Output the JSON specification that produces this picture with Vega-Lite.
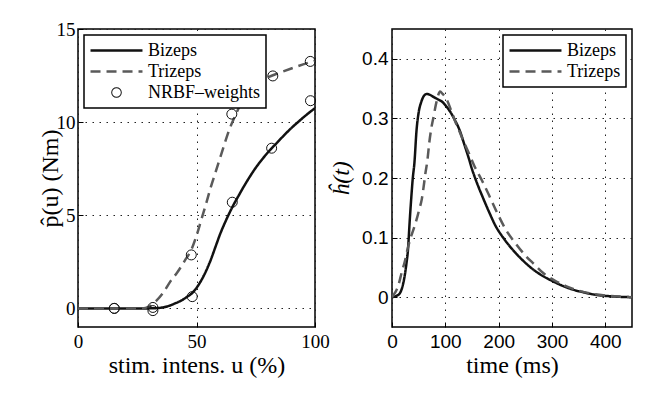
{
  "$schema": "https://vega.github.io/schema/vega-lite/v6.json",
  "padding": {"left": 37, "top": 19, "right": 5, "bottom": 5},
  "background": "white",
  "config": {
    "font": "Liberation Serif",
    "view": {"stroke": "black", "strokeWidth": 1.5},
    "axis": {
      "grid": true, "gridColor": "#222", "gridDash": [1.5, 5.5], "gridWidth": 1,
      "ticks": true, "tickSize": -5, "tickColor": "black", "tickWidth": 1, "domain": false,
      "labelColor": "black", "titleColor": "black",
      "titleFont": "Liberation Serif", "titleFontSize": 24, "titleFontWeight": "normal"
    },
    "legend": {
      "title": null, "offset": 6, "labelFont": "Liberation Serif", "labelFontSize": 18, "labelColor": "black",
      "strokeColor": "black", "fillColor": "white", "padding": 5, "rowPadding": 0, "labelOffset": 4,
      "symbolSize": 2700, "symbolStrokeWidth": 2.5, "symbolType": "stroke", "clipHeight": 21
    }
  },
  "datasets": {
    "left": [
      {"u": 0, "p": 0, "series": "Bizeps"}, {"u": 20, "p": 0, "series": "Bizeps"}, {"u": 30, "p": 0, "series": "Bizeps"},
      {"u": 34, "p": 0.02, "series": "Bizeps"}, {"u": 38, "p": 0.12, "series": "Bizeps"}, {"u": 41, "p": 0.27, "series": "Bizeps"},
      {"u": 44, "p": 0.45, "series": "Bizeps"}, {"u": 46, "p": 0.62, "series": "Bizeps"}, {"u": 48, "p": 0.8, "series": "Bizeps"},
      {"u": 50, "p": 1.1, "series": "Bizeps"}, {"u": 52, "p": 1.5, "series": "Bizeps"}, {"u": 54, "p": 2.0, "series": "Bizeps"},
      {"u": 56, "p": 2.6, "series": "Bizeps"}, {"u": 58, "p": 3.3, "series": "Bizeps"}, {"u": 60, "p": 4.0, "series": "Bizeps"},
      {"u": 62, "p": 4.6, "series": "Bizeps"}, {"u": 64, "p": 5.15, "series": "Bizeps"}, {"u": 66, "p": 5.65, "series": "Bizeps"},
      {"u": 68, "p": 6.1, "series": "Bizeps"}, {"u": 70, "p": 6.55, "series": "Bizeps"}, {"u": 72, "p": 6.97, "series": "Bizeps"},
      {"u": 75, "p": 7.55, "series": "Bizeps"}, {"u": 78, "p": 8.05, "series": "Bizeps"}, {"u": 81, "p": 8.5, "series": "Bizeps"},
      {"u": 84, "p": 8.9, "series": "Bizeps"}, {"u": 87, "p": 9.3, "series": "Bizeps"}, {"u": 90, "p": 9.68, "series": "Bizeps"},
      {"u": 93, "p": 10.02, "series": "Bizeps"}, {"u": 96, "p": 10.35, "series": "Bizeps"}, {"u": 100, "p": 10.75, "series": "Bizeps"},
      {"u": 0, "p": 0, "series": "Trizeps"}, {"u": 20, "p": 0, "series": "Trizeps"}, {"u": 27, "p": 0, "series": "Trizeps"},
      {"u": 30, "p": 0.1, "series": "Trizeps"}, {"u": 33, "p": 0.4, "series": "Trizeps"}, {"u": 36, "p": 0.85, "series": "Trizeps"},
      {"u": 39, "p": 1.45, "series": "Trizeps"}, {"u": 42, "p": 1.95, "series": "Trizeps"}, {"u": 45, "p": 2.55, "series": "Trizeps"},
      {"u": 48, "p": 3.2, "series": "Trizeps"}, {"u": 50, "p": 3.9, "series": "Trizeps"}, {"u": 52, "p": 4.75, "series": "Trizeps"},
      {"u": 54, "p": 5.6, "series": "Trizeps"}, {"u": 56, "p": 6.5, "series": "Trizeps"}, {"u": 58, "p": 7.3, "series": "Trizeps"},
      {"u": 60, "p": 8.1, "series": "Trizeps"}, {"u": 62, "p": 8.9, "series": "Trizeps"}, {"u": 64, "p": 9.65, "series": "Trizeps"},
      {"u": 66, "p": 10.25, "series": "Trizeps"}, {"u": 68, "p": 10.8, "series": "Trizeps"}, {"u": 70, "p": 11.25, "series": "Trizeps"},
      {"u": 73, "p": 11.75, "series": "Trizeps"}, {"u": 76, "p": 12.1, "series": "Trizeps"}, {"u": 80, "p": 12.4, "series": "Trizeps"},
      {"u": 85, "p": 12.65, "series": "Trizeps"}, {"u": 90, "p": 12.88, "series": "Trizeps"}, {"u": 95, "p": 13.1, "series": "Trizeps"},
      {"u": 100, "p": 13.3, "series": "Trizeps"}
    ],
    "weights": [
      {"u": 15.3, "p": 0}, {"u": 15.3, "p": 0}, {"u": 31.6, "p": 0.05}, {"u": 31.6, "p": -0.12},
      {"u": 48.2, "p": 0.63}, {"u": 47.8, "p": 2.87}, {"u": 65.1, "p": 5.7}, {"u": 64.9, "p": 10.43},
      {"u": 81.7, "p": 8.6}, {"u": 82.2, "p": 12.48}, {"u": 98.1, "p": 11.15}, {"u": 98.0, "p": 13.26}
    ],
    "right": [
      {"t": 0, "h": 0, "series": "Bizeps"}, {"t": 5, "h": 0.001, "series": "Bizeps"}, {"t": 10, "h": 0.003, "series": "Bizeps"},
      {"t": 15, "h": 0.007, "series": "Bizeps"}, {"t": 18, "h": 0.013, "series": "Bizeps"}, {"t": 21, "h": 0.023, "series": "Bizeps"},
      {"t": 24, "h": 0.037, "series": "Bizeps"}, {"t": 27, "h": 0.056, "series": "Bizeps"}, {"t": 30, "h": 0.08, "series": "Bizeps"},
      {"t": 33, "h": 0.125, "series": "Bizeps"}, {"t": 36, "h": 0.165, "series": "Bizeps"}, {"t": 39, "h": 0.2, "series": "Bizeps"},
      {"t": 42, "h": 0.225, "series": "Bizeps"}, {"t": 46, "h": 0.28, "series": "Bizeps"}, {"t": 50, "h": 0.31, "series": "Bizeps"},
      {"t": 55, "h": 0.328, "series": "Bizeps"}, {"t": 60, "h": 0.338, "series": "Bizeps"}, {"t": 65, "h": 0.341, "series": "Bizeps"},
      {"t": 70, "h": 0.34, "series": "Bizeps"}, {"t": 78, "h": 0.336, "series": "Bizeps"}, {"t": 86, "h": 0.332, "series": "Bizeps"},
      {"t": 94, "h": 0.328, "series": "Bizeps"}, {"t": 102, "h": 0.32, "series": "Bizeps"}, {"t": 110, "h": 0.31, "series": "Bizeps"},
      {"t": 118, "h": 0.297, "series": "Bizeps"}, {"t": 126, "h": 0.282, "series": "Bizeps"}, {"t": 135, "h": 0.258, "series": "Bizeps"},
      {"t": 144, "h": 0.233, "series": "Bizeps"}, {"t": 150, "h": 0.215, "series": "Bizeps"}, {"t": 160, "h": 0.19, "series": "Bizeps"},
      {"t": 170, "h": 0.168, "series": "Bizeps"}, {"t": 182, "h": 0.143, "series": "Bizeps"}, {"t": 194, "h": 0.12, "series": "Bizeps"},
      {"t": 210, "h": 0.098, "series": "Bizeps"}, {"t": 226, "h": 0.08, "series": "Bizeps"}, {"t": 245, "h": 0.062, "series": "Bizeps"},
      {"t": 264, "h": 0.047, "series": "Bizeps"}, {"t": 282, "h": 0.036, "series": "Bizeps"}, {"t": 301, "h": 0.027, "series": "Bizeps"},
      {"t": 320, "h": 0.019, "series": "Bizeps"}, {"t": 339, "h": 0.0128, "series": "Bizeps"}, {"t": 360, "h": 0.008, "series": "Bizeps"},
      {"t": 382, "h": 0.004, "series": "Bizeps"}, {"t": 410, "h": 0.0015, "series": "Bizeps"}, {"t": 450, "h": 0, "series": "Bizeps"},
      {"t": 0, "h": 0, "series": "Trizeps"}, {"t": 6, "h": 0.008, "series": "Trizeps"}, {"t": 12, "h": 0.02, "series": "Trizeps"},
      {"t": 18, "h": 0.041, "series": "Trizeps"}, {"t": 24, "h": 0.06, "series": "Trizeps"}, {"t": 29, "h": 0.08, "series": "Trizeps"},
      {"t": 34, "h": 0.097, "series": "Trizeps"}, {"t": 40, "h": 0.113, "series": "Trizeps"}, {"t": 46, "h": 0.13, "series": "Trizeps"},
      {"t": 51, "h": 0.147, "series": "Trizeps"}, {"t": 56, "h": 0.165, "series": "Trizeps"}, {"t": 60, "h": 0.19, "series": "Trizeps"},
      {"t": 63, "h": 0.21, "series": "Trizeps"}, {"t": 66, "h": 0.227, "series": "Trizeps"}, {"t": 70, "h": 0.26, "series": "Trizeps"},
      {"t": 74, "h": 0.285, "series": "Trizeps"}, {"t": 78, "h": 0.303, "series": "Trizeps"}, {"t": 82, "h": 0.322, "series": "Trizeps"},
      {"t": 86, "h": 0.337, "series": "Trizeps"}, {"t": 90, "h": 0.345, "series": "Trizeps"}, {"t": 95, "h": 0.341, "series": "Trizeps"},
      {"t": 103, "h": 0.331, "series": "Trizeps"}, {"t": 111, "h": 0.313, "series": "Trizeps"}, {"t": 119, "h": 0.294, "series": "Trizeps"},
      {"t": 127, "h": 0.277, "series": "Trizeps"}, {"t": 135, "h": 0.26, "series": "Trizeps"}, {"t": 144, "h": 0.242, "series": "Trizeps"},
      {"t": 154, "h": 0.221, "series": "Trizeps"}, {"t": 168, "h": 0.197, "series": "Trizeps"}, {"t": 182, "h": 0.171, "series": "Trizeps"},
      {"t": 197, "h": 0.142, "series": "Trizeps"}, {"t": 213, "h": 0.114, "series": "Trizeps"}, {"t": 232, "h": 0.09, "series": "Trizeps"},
      {"t": 251, "h": 0.069, "series": "Trizeps"}, {"t": 267, "h": 0.055, "series": "Trizeps"}, {"t": 283, "h": 0.041, "series": "Trizeps"},
      {"t": 305, "h": 0.028, "series": "Trizeps"}, {"t": 326, "h": 0.0186, "series": "Trizeps"}, {"t": 350, "h": 0.011, "series": "Trizeps"},
      {"t": 375, "h": 0.006, "series": "Trizeps"}, {"t": 400, "h": 0.003, "series": "Trizeps"}, {"t": 425, "h": 0.001, "series": "Trizeps"},
      {"t": 450, "h": 0, "series": "Trizeps"}
    ]
  },
  "spacing": -2,
  "resolve": {"scale": {"color": "independent", "strokeDash": "independent"}, "legend": {"color": "independent"}},
  "hconcat": [
    {
      "width": 237, "height": 298,
      "layer": [
        {
          "data": {"name": "left"},
          "mark": {"type": "line", "strokeWidth": 2.5, "interpolate": "monotone", "clip": true},
          "encoding": {
            "x": {"field": "u", "type": "quantitative", "scale": {"domain": [0, 100], "nice": false},
              "axis": {"values": [0, 50, 100], "title": "stim. intens. u (%)", "labelFont": "Liberation Serif", "labelFontSize": 19, "labelPadding": 10, "titlePadding": 2, "labelFlush": false,
                "titleFont": "Liberation Serif", "titleFontSize": 24, "titleFontWeight": "normal", "titleColor": "black", "labelColor": "black"}},
            "y": {"field": "p", "type": "quantitative", "scale": {"domain": [-1, 15], "nice": false, "zero": false},
              "axis": {"values": [0, 5, 10, 15], "title": "p̂(u) (Nm)", "labelFont": "Liberation Serif", "labelFontSize": 19, "labelPadding": 8, "titlePadding": -6,
                "titleFont": "Liberation Serif", "titleFontSize": 24, "titleFontWeight": "normal", "titleColor": "black", "labelColor": "black"}},
            "color": {"field": "series", "type": "nominal",
              "scale": {"domain": ["Bizeps", "Trizeps", "NRBF–weights"], "range": ["#111111", "#5a5a5a", "#111111"]},
              "legend": {"orient": "top-left", "symbolSize": 2700, "symbolType": "stroke", "clipHeight": 21,
                "encode": {"symbols": {"update": {
                  "shape": {"signal": "datum.value === 'NRBF–weights' ? 'M0.204,0 L0.1885,0.0781 L0.1443,0.1443 L0.0781,0.1885 L0,0.204 L-0.0781,0.1885 L-0.1443,0.1443 L-0.1885,0.0781 L-0.204,0 L-0.1885,-0.0781 L-0.1443,-0.1443 L-0.0781,-0.1885 L0,-0.204 L0.0781,-0.1885 L0.1443,-0.1443 L0.1885,-0.0781 Z M0.166,0 L0.1534,-0.0635 L0.1174,-0.1174 L0.0635,-0.1534 L0,-0.166 L-0.0635,-0.1534 L-0.1174,-0.1174 L-0.1534,-0.0635 L-0.166,0 L-0.1534,0.0635 L-0.1174,0.1174 L-0.0635,0.1534 L0,0.166 L0.0635,0.1534 L0.1174,0.1174 L0.1534,0.0635 Z' : 'stroke'"},
                  "fill": {"signal": "datum.value === 'NRBF–weights' ? '#111111' : 'transparent'"},
                  "fillOpacity": {"value": 1},
                  "strokeOpacity": {"signal": "datum.value === 'NRBF–weights' ? 0 : 1"},
                  "strokeDash": {"signal": "datum.value === 'Trizeps' ? [10, 6] : [1, 0]"}
                }}, "legend": {"update": {"strokeWidth": {"value": 1.5}}}}}},
            "strokeDash": {"field": "series", "type": "nominal",
              "scale": {"domain": ["Bizeps", "Trizeps"], "range": [[1, 0], [10, 6]]}, "legend": null}
          }
        },
        {
          "data": {"name": "weights"},
          "mark": {"type": "point", "shape": "circle", "filled": false, "size": 100, "strokeWidth": 1, "color": "#111111", "opacity": 1},
          "encoding": {
            "x": {"field": "u", "type": "quantitative"},
            "y": {"field": "p", "type": "quantitative"}
          }
        }
      ]
    },
    {
      "width": 240, "height": 298,
      "data": {"name": "right"},
      "mark": {"type": "line", "strokeWidth": 2.5, "interpolate": "monotone", "clip": true},
      "encoding": {
        "x": {"field": "t", "type": "quantitative", "scale": {"domain": [0, 450], "nice": false},
          "axis": {"values": [0, 100, 200, 300, 400], "title": "time (ms)", "labelFont": "Liberation Sans", "labelFontSize": 19, "labelPadding": 10, "titlePadding": 2, "labelFlush": false,
            "titleFont": "Liberation Serif", "titleFontSize": 24, "titleFontWeight": "normal", "titleColor": "black", "labelColor": "black"}},
        "y": {"field": "h", "type": "quantitative", "scale": {"domain": [-0.05, 0.45], "nice": false, "zero": false},
          "axis": {"values": [0, 0.1, 0.2, 0.3, 0.4], "labelExpr": "datum.value === 0 ? '0' : format(datum.value, '.1f')", "title": "ĥ(t)", "labelFont": "Liberation Sans", "labelFontSize": 19, "labelPadding": 9, "titlePadding": 8,
            "titleFont": "Liberation Serif", "titleFontSize": 24, "titleFontWeight": "normal", "titleFontStyle": "italic", "titleColor": "black", "labelColor": "black"}},
        "color": {"field": "series", "type": "nominal",
          "scale": {"domain": ["Bizeps", "Trizeps"], "range": ["#111111", "#5a5a5a"]},
          "legend": {"orient": "top-right", "symbolSize": 2700, "symbolType": "stroke", "clipHeight": 21,
            "encode": {"symbols": {"update": {
              "strokeDash": {"signal": "datum.value === 'Trizeps' ? [10, 6] : [1, 0]"}
            }}, "legend": {"update": {"strokeWidth": {"value": 1.5}}}}}},
        "strokeDash": {"field": "series", "type": "nominal",
          "scale": {"domain": ["Bizeps", "Trizeps"], "range": [[1, 0], [10, 6]]}, "legend": null}
      }
    }
  ]
}
